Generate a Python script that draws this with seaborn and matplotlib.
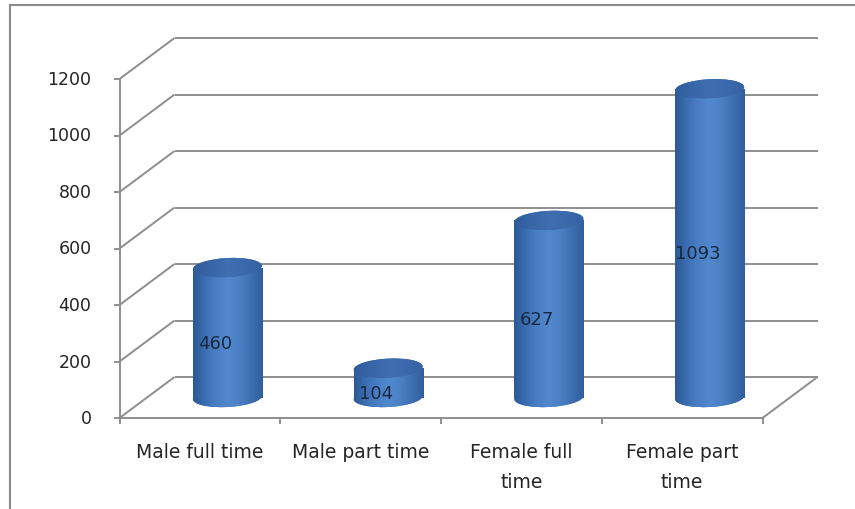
import numpy as np
import pandas as pd
import matplotlib
matplotlib.use("Agg")
import matplotlib.pyplot as plt
import seaborn as sns
from matplotlib.patches import Ellipse, Rectangle
from matplotlib.lines import Line2D
from matplotlib.colors import LinearSegmentedColormap
from matplotlib import transforms as mtrans

# ---- data -------------------------------------------------------------
categories = ["Male full time", "Male part time", "Female full time", "Female part time"]
category_labels = ["Male full time", "Male part time", "Female full\ntime", "Female part\ntime"]
values = [460, 104, 627, 1093]
y_ticks = [0, 200, 400, 600, 800, 1000, 1200]

# ---- style ------------------------------------------------------------
sns.set_theme(style="white")
plt.rcParams["font.family"] = ["DejaVu Sans"]

W, H, DPI = 855, 510, 100
fig = plt.figure(figsize=(W / DPI, H / DPI), dpi=DPI)
fig.patch.set_facecolor("white")

# Axes = the mid-depth plane of the 3-D box (pixel geometry)
left_px, right_px = 147, 790
base_px, top_px = 398.5, 59.5
ax = fig.add_axes([left_px / W, (H - base_px) / H,
                   (right_px - left_px) / W, (base_px - top_px) / H])

DX, DY = 27.5, 20.5           # half depth of the box, in pixels
FRONT = (-DX, -DY)
BACK = (DX, DY)
GRID = "#8E8E8E"
TEXT = "#252525"

df = pd.DataFrame({"category": categories, "value": values})
sns.barplot(data=df, x="category", y="value", ax=ax, width=0.43,
            color="#4A7DC2", saturation=1, zorder=3, linewidth=0)

ax.set_xlim(-0.5, len(categories) - 0.5)
ax.set_ylim(y_ticks[0], y_ticks[-1])
ax.set_autoscale_on(False)
ax.set_axis_off()

ident = mtrans.IdentityTransform()


def disp(x, y, off=(0, 0)):
    px, py = ax.transData.transform((x, y))
    return px + off[0], py + off[1]


def seg(p, q, z=1, color=GRID, lw=1.4):
    ln = Line2D([p[0], q[0]], [p[1], q[1]], transform=ident, color=color,
                lw=lw, zorder=z, clip_on=False, solid_capstyle="butt")
    ax.add_artist(ln)


x_lo, x_hi = ax.get_xlim()

# back wall gridlines, side wall diagonals, value axis ticks and labels
for v in y_ticks:
    seg(disp(x_lo, v, BACK), disp(x_hi, v, BACK))
    seg(disp(x_lo, v, FRONT), disp(x_lo, v, BACK))
    fx, fy = disp(x_lo, v, FRONT)
    seg((fx, fy), (fx - 6, fy))
    ax.text(fx - 28, fy, f"{v}", transform=ident, ha="right", va="center",
            fontsize=12.5, color=TEXT, clip_on=False)

# value axis line
seg(disp(x_lo, y_ticks[0], FRONT), disp(x_lo, y_ticks[-1], FRONT))
# floor front edge, category ticks and right floor edge
seg(disp(x_lo, 0, FRONT), disp(x_hi, 0, FRONT))
for b in np.arange(x_lo, x_hi + 0.01, 1.0):
    bx, by = disp(b, 0, FRONT)
    seg((bx, by), (bx, by - 6))
seg(disp(x_hi, 0, FRONT), disp(x_hi, 0, BACK))

# category labels
for i, lab in enumerate(category_labels):
    cx, cy = disp(i, 0, FRONT)
    for k, line in enumerate(lab.split("\n")):
        ax.text(cx, cy - 39 - 30 * k, line, transform=ident, ha="center",
                va="baseline", fontsize=13.5, color=TEXT, clip_on=False)

# ---- cylinder shading ---------------------------------------------------
body_cmap = LinearSegmentedColormap.from_list(
    "body", ["#2C5995", "#3B6DB2", "#4A7FC4", "#5288CD", "#4B80C5", "#3D6EB0", "#305F9E"])
cap_cmap = LinearSegmentedColormap.from_list(
    "cap", ["#2F5C9A", "#3866A8", "#3F6FB1", "#3B6AAC", "#3461A2"])
grad = np.linspace(0, 1, 256)[None, :]

ELL_H = 19      # ellipse height in pixels
ANG = 3         # slight perspective tilt of the ellipses

px_per_x = ax.transData.transform((1, 0))[0] - ax.transData.transform((0, 0))[0]

for p, v in zip(ax.patches, values):
    x0, w = p.get_x(), p.get_width()
    xc = x0 + w / 2
    ew = w * px_per_x

    # bottom ellipse (hangs below the zero line, so no axes clipping)
    bot = Ellipse((0, 0), ew, ELL_H, angle=ANG, facecolor="#3F72B8", lw=0,
                  transform=mtrans.ScaledTranslation(xc, 0, ax.transData), zorder=2)
    bot.set_clip_on(False)
    ax.add_patch(bot)
    im = ax.imshow(grad, cmap=body_cmap, aspect="auto", zorder=2.05,
                   extent=(x0, x0 + w, -200, v + 200), interpolation="bilinear")
    im.set_clip_path(bot)
    im.set_clip_box(fig.bbox)

    # body
    p.set_facecolor("#4A7DC2")
    im = ax.imshow(grad, cmap=body_cmap, aspect="auto", zorder=3.05,
                   extent=(x0, x0 + w, -200, v + 200), interpolation="bilinear")
    im.set_clip_path(p)

    # top cap
    cap = Ellipse((0, 0), ew, ELL_H, angle=ANG, facecolor="#3A69AC", lw=0,
                  transform=mtrans.ScaledTranslation(xc, v, ax.transData), zorder=4)
    cap.set_clip_on(False)
    ax.add_patch(cap)
    im = ax.imshow(grad, cmap=cap_cmap, aspect="auto", zorder=4.05,
                   extent=(x0, x0 + w, -200, v + 200), interpolation="bilinear")
    im.set_clip_path(cap)
    im.set_clip_box(fig.bbox)

    # value label
    lab_t = mtrans.offset_copy(ax.transData, fig=fig, x=-12, y=-10, units="dots")
    ax.text(xc, v / 2, f"{v}", transform=lab_t, ha="center", va="center",
            fontsize=13, color="#182840", zorder=6, clip_on=False)

ax.set_xlim(x_lo, x_hi)
ax.set_ylim(y_ticks[0], y_ticks[-1])

# chart area border (top and left edges visible)
fig.add_artist(Rectangle((9.5 / W, -0.5), 2.0, (H - 5.5) / H + 0.5,
                         transform=fig.transFigure, fill=False,
                         edgecolor="#8A8A8A", lw=1.5))

fig.savefig("out.png", dpi=DPI, facecolor="white")
